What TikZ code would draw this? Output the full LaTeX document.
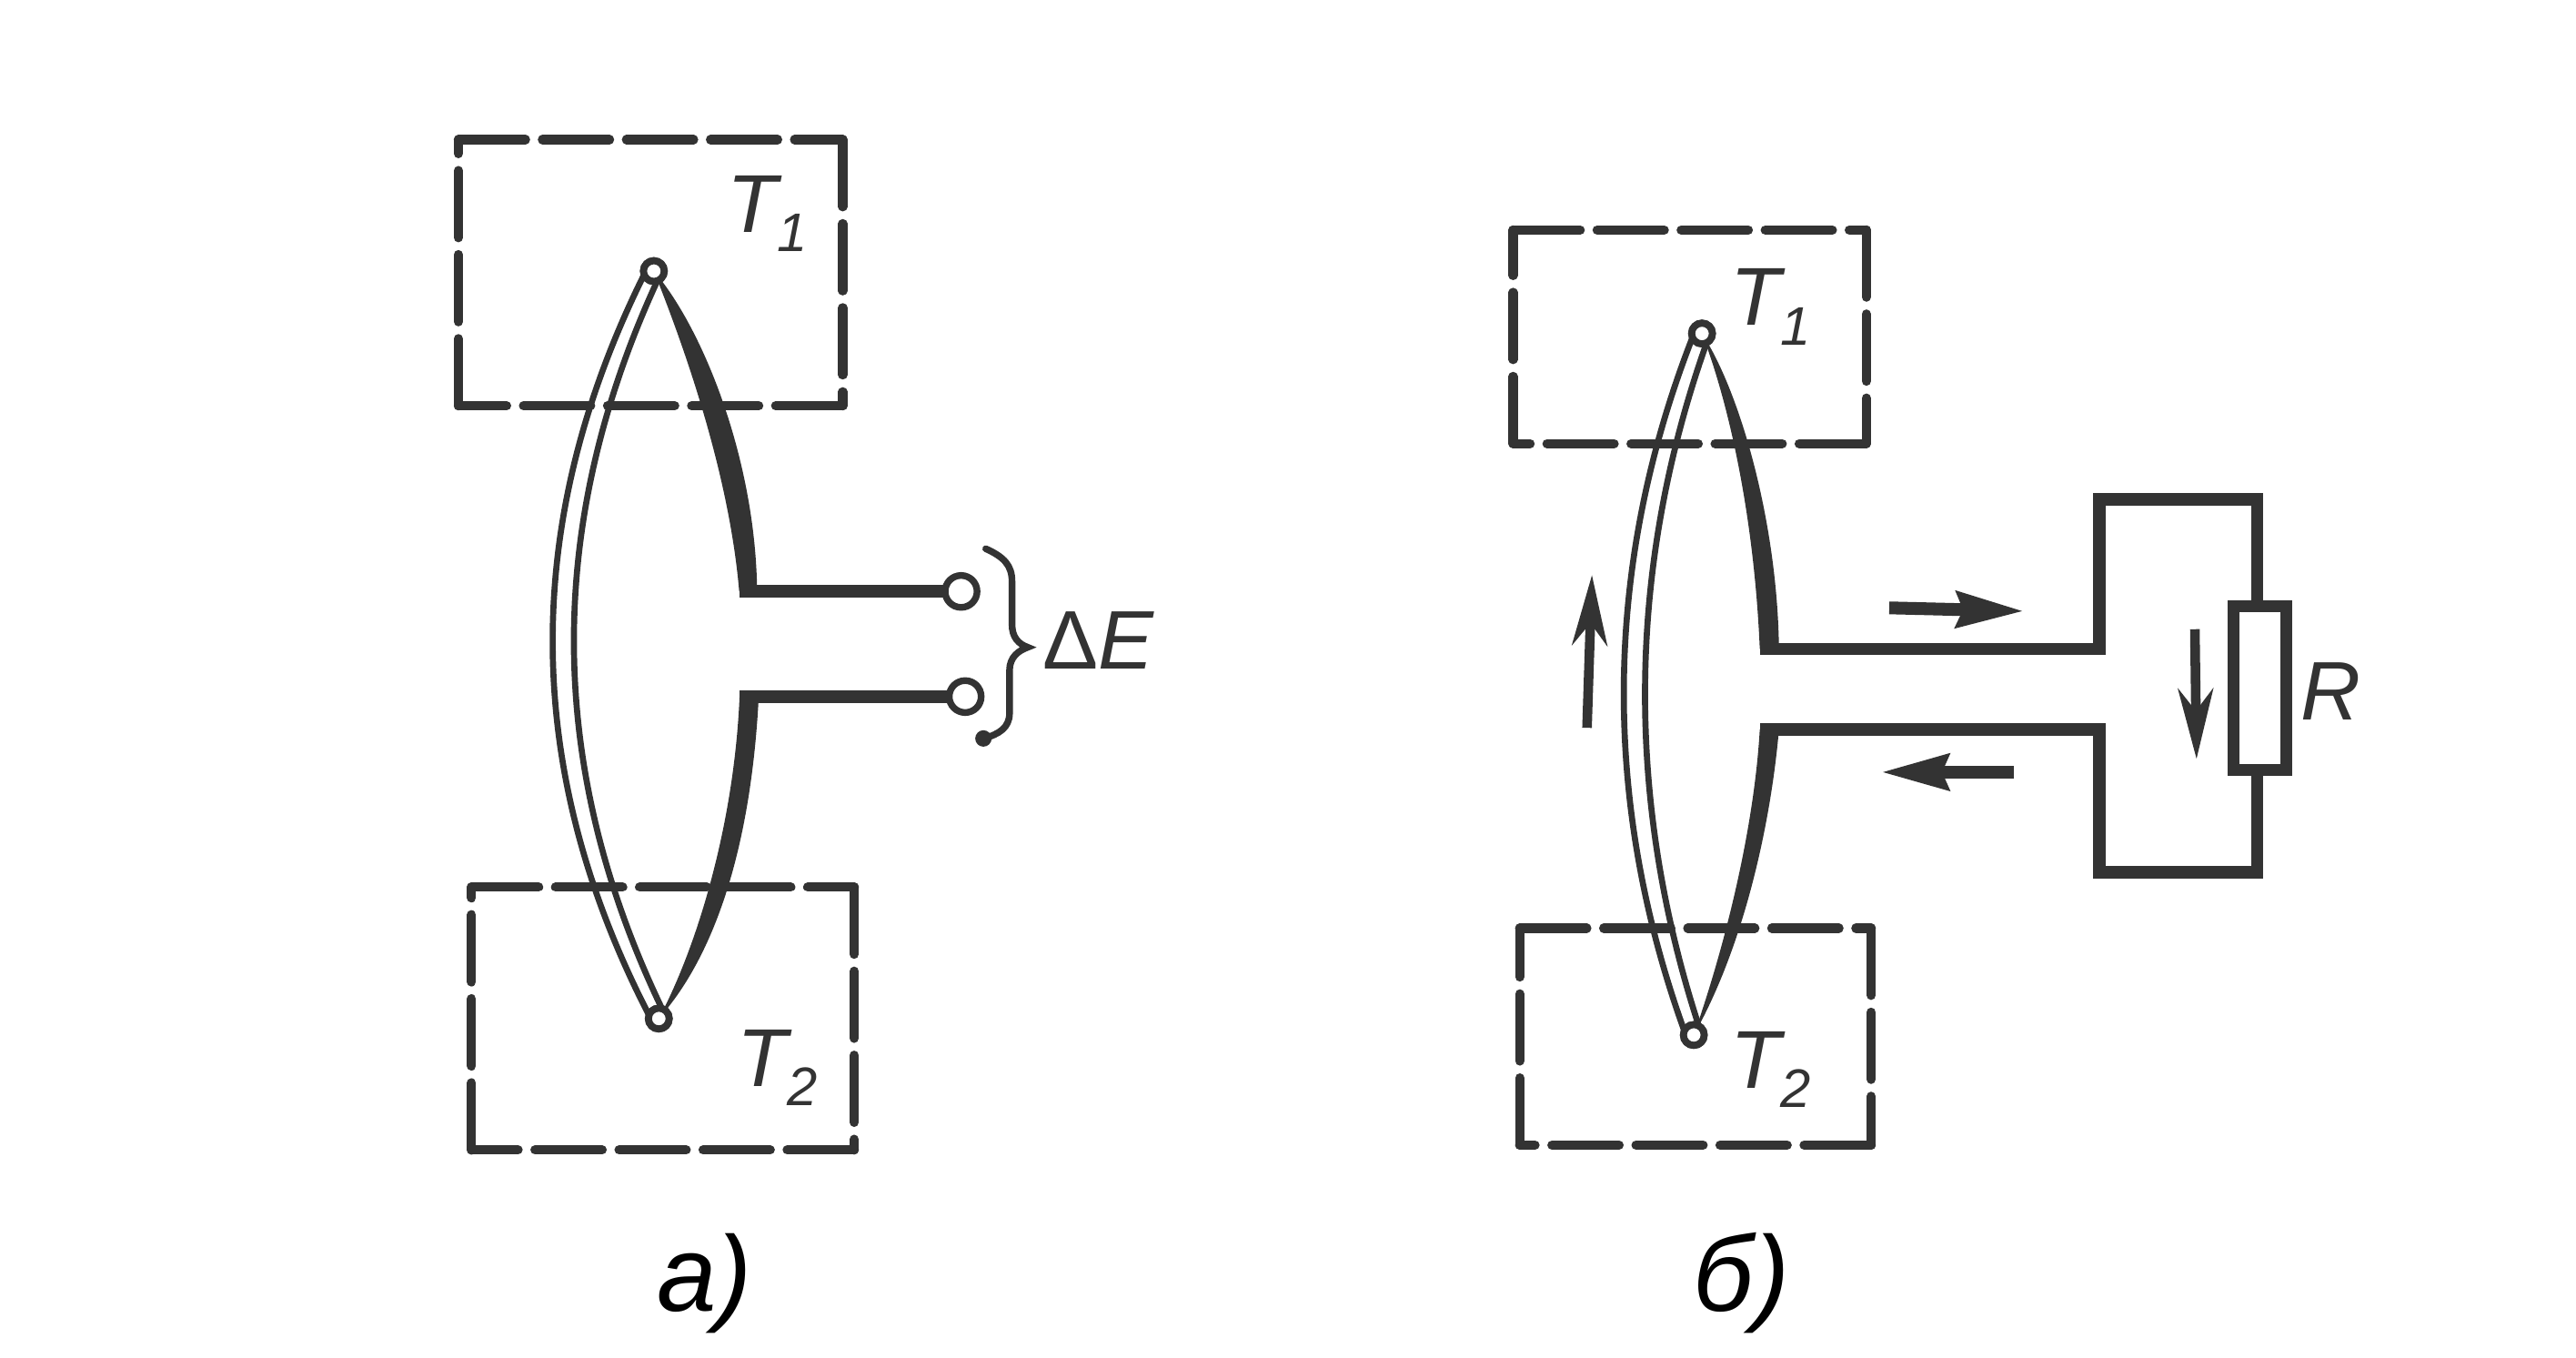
\documentclass[tikz,border=0pt]{standalone}
\usepackage{fontspec}
\setmainfont{Liberation Sans}
\usetikzlibrary{arrows.meta}
\definecolor{ink}{gray}{0.2}
\tikzset{
  x=0.01806cm,y=-0.01806cm,
  every node/.style={inner sep=0pt,outer sep=0pt,text=ink},
  dashbox/.style={draw=ink,line width=2.9pt,dash pattern=on 21pt off 5.3pt,line cap=round},
  wire/.style={draw=ink,line width=3.9pt,line join=miter},
  strand/.style={draw=ink,line width=1.9pt},
  terminal/.style={circle,draw=ink,fill=white,line width=2.1pt,minimum size=10pt},
  junction/.style={circle,draw=ink,fill=white,line width=2.2pt,minimum size=6.5pt},
  resistor/.style={rectangle,draw=ink,fill=white,line width=3.7pt,minimum width=16.4pt,minimum height=51.2pt},
  tlabel/.style={font=\fontsize{25.7}{25.7}\selectfont\itshape},
  partlabel/.style={font=\fontsize{33.5}{33.5}\selectfont\itshape,text=black},
  bigarrow/.style={draw=ink,line width=3pt,-{Stealth[length=22pt,width=11pt,inset=7pt]}},
  shortarrow/.style={draw=ink,line width=4pt,-{Stealth[length=21pt,width=11pt,inset=2pt]}},
}
\newcommand{\Tlab}[1]{T\raisebox{-0.24em}{\fontsize{17}{17}\selectfont #1}}
\newcommand{\dashframe}[4]{%
  \draw[dashbox] (#1,#2) -- (#3,#2);
  \draw[dashbox] (#3,#2) -- (#3,#4);
  \draw[dashbox] (#3,#4) -- (#1,#4);
  \draw[dashbox] (#1,#4) -- (#1,#2);}
\begin{document}
\begin{tikzpicture}
\useasboundingbox (0,0) rectangle (1568,826.6);
% ---------- a)
\dashframe{279}{85}{513}{247}
\dashframe{287}{540}{520}{700}
\node[junction] (a1) at (398,165) {};
\node[junction] (a2) at (401,620) {};
\path (a1.center) coordinate (a1c) (a2.center) coordinate (a2c);
\coordinate (aw1) at (455,360);
\coordinate (aw2) at (456,424);
\draw[strand] ([xshift=-2.5pt]a1c) .. controls (317,317) and (317,468) .. ([xshift=-2.5pt]a2c);
\draw[strand] ([xshift=2.5pt]a1c) .. controls (331,317) and (331,468) .. ([xshift=2.5pt]a2c);
\fill[ink] (a1c) .. controls (418,215) and (444,290) .. ([xshift=-2.6pt]aw1) -- ([xshift=3pt]aw1) .. controls (460,280) and (428,200) .. (a1c) -- cycle;
\fill[ink] (a2c) .. controls (425,575) and (447,500) .. ([xshift=-3pt]aw2) -- ([xshift=3pt]aw2) .. controls (458,500) and (441,575) .. (a2c) -- cycle;
\node[junction] at (a1c) {};
\node[junction] at (a2c) {};
\node[terminal] (at1) at (585,360) {};
\node[terminal] (at2) at (587.5,424) {};
\draw[wire] ([xshift=-2.6pt]aw1) -- (at1);
\draw[wire] ([xshift=-3pt]aw2) -- (at2);
\coordinate (bt) at (600,334);
\coordinate (bb) at (598.6,449.5);
\coordinate (bm) at (625.6,394);
\draw[ink,line width=2.1pt,line cap=round] (bt) .. controls (611,339) and (616,344) .. (616,354) -- (616,380) .. controls (616,388) and (620,392) .. (bm) .. controls (620,396) and (614.5,400) .. (614.5,408) -- (614.5,434) .. controls (614.5,443) and (608,447) .. (bb);
\fill[ink] (bb) circle (5);
\node[tlabel] (at1l) at (467,130) {\Tlab{1}};
\node[tlabel] (at2l) at (473,650) {\Tlab{2}};
\node[font=\fontsize{26}{26}\selectfont] (dE) at (669,390) {Δ\textit{E}};
\node[partlabel] (la) at (429,781) {а)};
% ---------- б)
\dashframe{921}{140}{1136}{270}
\dashframe{925}{565}{1139}{697}
\node[junction] (b1) at (1036,203) {};
\node[junction] (b2) at (1031,630) {};
\path (b1.center) coordinate (b1c) (b2.center) coordinate (b2c);
\draw[strand] ([xshift=-2.5pt]b1c) .. controls (975,345) and (975,490) .. ([xshift=-2.5pt]b2c);
\draw[strand] ([xshift=2.5pt]b1c) .. controls (989,345) and (989,490) .. ([xshift=2.5pt]b2c);
\coordinate (bw1) at (1077,395);
\coordinate (bw2) at (1077,444);
\fill[ink] (b1c) .. controls (1054,250) and (1068,320) .. ([xshift=-3pt]bw1) -- ([xshift=3pt]bw1) .. controls (1082,320) and (1060,240) .. (b1c) -- cycle;
\fill[ink] (b2c) .. controls (1052,570) and (1068,500) .. ([xshift=-3pt]bw2) -- ([xshift=3pt]bw2) .. controls (1078,500) and (1062,575) .. (b2c) -- cycle;
\node[junction] at (b1c) {};
\node[junction] at (b2c) {};
\node[resistor] (R) at (1375.5,419) {};
\coordinate (c1) at (1278,395);
\coordinate (c2) at (1278,304);
\coordinate (c3) at (1374,304);
\coordinate (c4) at (1374,531);
\coordinate (c5) at (1278,531);
\coordinate (c6) at (1278,444);
\draw[wire] ([xshift=-3pt]bw1) -- (c1) -- (c2) -- (c3) -- (c3 |- R.north);
\draw[wire] (c4 |- R.south) -- (c4) -- (c5) -- (c6) -- ([xshift=-3pt]bw2);
\coordinate (ar1s) at (1150,370);
\coordinate (ar1e) at (1232,372);
\coordinate (ar2s) at (1226,470);
\coordinate (ar2e) at (1145,470);
\coordinate (ar3s) at (966,443);
\coordinate (ar3e) at (969,350);
\coordinate (ar4s) at (1336,383);
\coordinate (ar4e) at (1337,462);
\draw[shortarrow] (ar1s) -- (ar1e);
\draw[shortarrow] (ar2s) -- (ar2e);
\draw[bigarrow] (ar3s) -- (ar3e);
\draw[bigarrow] (ar4s) -- (ar4e);
\node[tlabel] (bt1l) at (1078,187) {\Tlab{1}};
\node[tlabel] (bt2l) at (1078,651) {\Tlab{2}};
\node[font=\fontsize{26}{26}\selectfont\itshape] (Rl) at (1419,421) {R};
\node[partlabel] (lb) at (1060,781) {б)};
\end{tikzpicture}
\end{document}
